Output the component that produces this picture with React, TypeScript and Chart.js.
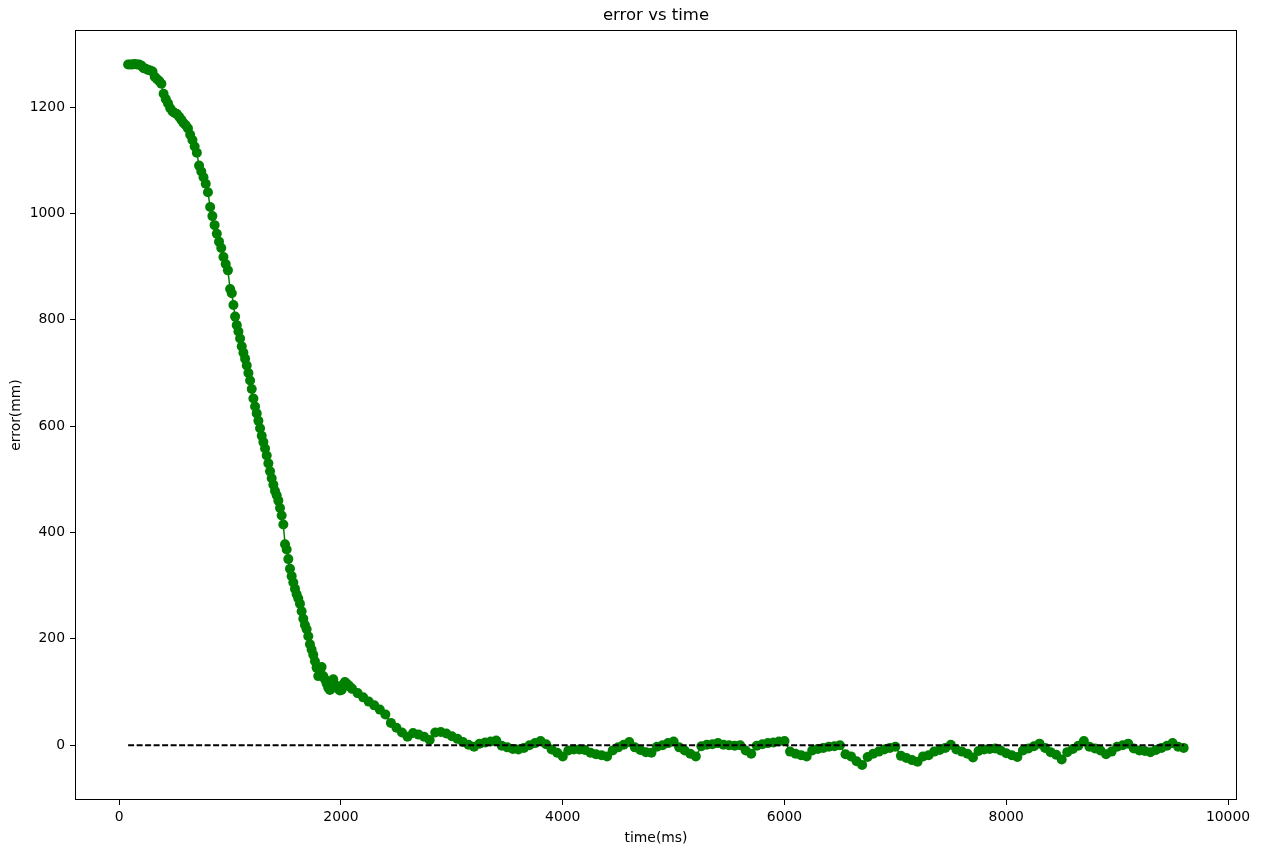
import React, { useEffect, useRef } from "react";
import { Chart, registerables } from "chart.js";

Chart.register(...registerables);

// time samples (ms)
const timeMs: number[] = [
  80, 100, 120, 140, 160, 180, 200, 220, 240, 260,
  280, 300, 320, 340, 360, 380, 400, 420, 440, 460,
  480, 500, 520, 540, 560, 580, 600, 620, 640, 660,
  680, 700, 720, 740, 760, 780, 800, 820, 840, 860,
  880, 900, 920, 940, 960, 980, 1000,
  1015, 1030, 1045, 1060, 1075, 1090, 1105, 1120, 1135, 1150,
  1165, 1180, 1195, 1210, 1225, 1240, 1255, 1270, 1285, 1300,
  1315, 1330, 1345, 1360, 1375, 1390, 1405, 1420, 1435, 1450,
  1465, 1480, 1495, 1510, 1525, 1540, 1555, 1570, 1585, 1600,
  1615, 1630, 1645, 1660, 1675, 1690, 1705, 1720, 1735, 1750,
  1765, 1780, 1795,
  1810, 1825, 1840, 1855, 1870, 1885, 1900, 1915, 1930, 1945,
  1960, 1975, 1990, 2005, 2020, 2035, 2050, 2065, 2080,
  2100, 2150, 2200, 2250, 2300, 2350, 2400, 2450, 2500, 2550,
  2600, 2650, 2700, 2750, 2800, 2850, 2900, 2950, 3000, 3050,
  3100, 3150, 3200, 3250, 3300, 3350, 3400, 3450, 3500, 3550,
  3600, 3650, 3700, 3750, 3800, 3850, 3900, 3950, 4000, 4050,
  4100, 4150, 4200, 4250, 4300, 4350, 4400, 4450, 4500, 4550,
  4600, 4650, 4700, 4750, 4800, 4850, 4900, 4950, 5000, 5050,
  5100, 5150, 5200, 5250, 5300, 5350, 5400, 5450, 5500, 5550,
  5600, 5650, 5700, 5750, 5800, 5850, 5900, 5950, 6000, 6050,
  6100, 6150, 6200, 6250, 6300, 6350, 6400, 6450, 6500, 6550,
  6600, 6650, 6700, 6750, 6800, 6850, 6900, 6950, 7000, 7050,
  7100, 7150, 7200, 7250, 7300, 7350, 7400, 7450, 7500, 7550,
  7600, 7650, 7700, 7750, 7800, 7850, 7900, 7950, 8000, 8050,
  8100, 8150, 8200, 8250, 8300, 8350, 8400, 8450, 8500, 8550,
  8600, 8650, 8700, 8750, 8800, 8850, 8900, 8950, 9000, 9050,
  9100, 9150, 9200, 9250, 9300, 9350, 9400, 9450, 9500, 9550,
  9600,
];

// error values (mm)
const errorMm: number[] = [
  1280, 1280, 1280, 1281, 1280, 1280, 1278, 1273, 1272, 1270,
  1269, 1267, 1257, 1253, 1249, 1244, 1225, 1215, 1207, 1198,
  1192, 1189, 1187, 1182, 1176, 1170, 1166, 1160, 1148, 1138,
  1126, 1114, 1090, 1079, 1068, 1056, 1040, 1012, 995, 978,
  962, 947, 935, 918, 905, 893, 858,
  850, 828, 806, 790, 778, 765, 750, 738, 727, 714,
  700, 686, 670, 652, 637, 624, 610, 596, 582, 570,
  558, 545, 530, 515, 502, 490, 478, 470, 460, 446,
  432, 415, 378, 368, 350, 332, 318, 306, 294, 284,
  276, 266, 252, 238, 226, 218, 205, 190, 180, 170,
  158, 146, 130,
  140, 147, 130, 124, 116, 108, 104, 116, 124, 114,
  110, 106, 103, 104, 114, 119, 116, 113, 110,
  106, 98, 90, 82, 75, 67, 58, 42, 33, 24,
  16, 23, 20, 16, 10, 24, 25, 22, 17, 12,
  6, 1, -3, 3, 5, 7, 9, -1, -4, -7,
  -8, -5, 0, 4, 8, 2, -8, -14, -21, -10,
  -8, -8, -9, -14, -17, -19, -21, -10, -4, 1,
  6, -4, -9, -13, -14, -3, 0, 4, 7, -4,
  -10, -16, -21, -2, 1, 2, 4, 1, 0, -1,
  0, -10, -16, -1, 2, 4, 5, 7, 8, -12,
  -16, -19, -21, -10, -7, -5, -3, -2, 0, -17,
  -21, -30, -37, -22, -16, -12, -8, -5, -3, -20,
  -24, -28, -31, -21, -19, -12, -9, -5, 1, -8,
  -12, -16, -23, -11, -8, -7, -6, -10, -15, -19,
  -22, -10, -6, -2, 3, -5, -13, -18, -27, -13,
  -7, -1, 8, -3, -6, -10, -17, -12, -3, 0,
  3, -6, -10, -11, -13, -9, -5, -1, 4, -3,
  -5,
];

const targetError = 0;
const xTicks = [0, 2000, 4000, 6000, 8000, 10000];
const yTicks = [0, 200, 400, 600, 800, 1000, 1200];

const FONT = "'DejaVu Sans', 'Liberation Sans', sans-serif";

const framePlugin = {
  id: "frame",
  afterDraw(chart: any) {
    const { ctx, chartArea } = chart;
    const { left, top, right, bottom } = chartArea;
    ctx.save();
    ctx.strokeStyle = "#000";
    ctx.lineWidth = 1;
    ctx.strokeRect(left + 0.5, top + 0.5, right - left - 1, bottom - top - 1);
    ctx.restore();
  },
};

export default function App() {
  const canvasRef = useRef<HTMLCanvasElement | null>(null);

  useEffect(() => {
    const canvas = canvasRef.current;
    if (!canvas) return;
    const n = Math.min(timeMs.length, errorMm.length);
    const points = [];
    for (let i = 0; i < n; i++) points.push({ x: timeMs[i], y: errorMm[i] });
    const refLine = [
      { x: timeMs[0], y: targetError },
      { x: timeMs[n - 1], y: targetError },
    ];

    const chart = new Chart(canvas, {
      type: "line",
      data: {
        datasets: [
          {
            label: "target",
            data: refLine,
            borderColor: "#000",
            borderWidth: 2,
            borderDash: [6, 2.5],
            pointRadius: 0,
            fill: false,
          },
          {
            label: "error",
            data: points,
            borderColor: "#008000",
            backgroundColor: "#008000",
            borderWidth: 1.5,
            pointRadius: 5,
            pointHoverRadius: 5,
            pointBorderWidth: 0,
            pointBackgroundColor: "#008000",
            fill: false,
            tension: 0,
          },
        ],
      },
      options: {
        animation: false,
        responsive: false,
        devicePixelRatio: 1,
        events: [],
        layout: { padding: { left: 0, right: 24, top: 0, bottom: 0 } },
        plugins: {
          legend: { display: false },
          tooltip: { enabled: false },
          title: {
            display: true,
            text: "error vs time",
            fullSize: false,
            color: "#000",
            font: { family: FONT, size: 16.5, weight: "normal", lineHeight: 1.2 },
            padding: { top: 6, bottom: 4.2 },
          },
        },
        scales: {
          x: {
            type: "linear",
            min: -399,
            max: 10081,
            afterBuildTicks: (s: any) => {
              s.ticks = xTicks.map((v) => ({ value: v }));
            },
            afterFit: (s: any) => {
              s.height = 53;
            },
            border: { display: false },
            grid: {
              display: true,
              drawOnChartArea: false,
              drawTicks: true,
              tickLength: 5,
              color: "#000",
              lineWidth: 1,
            },
            ticks: {
              autoSkip: false,
              maxRotation: 0,
              padding: 4,
              color: "#000",
              font: { family: FONT, size: 13.9 },
              callback: (v: any) => String(v),
            },
            title: {
              display: true,
              text: "time(ms)",
              color: "#000",
              font: { family: FONT, size: 13.9, lineHeight: 1.2 },
              padding: { top: 0, bottom: 6.5 },
            },
          },
          y: {
            type: "linear",
            min: -103,
            max: 1345,
            afterBuildTicks: (s: any) => {
              s.ticks = yTicks.map((v) => ({ value: v }));
            },
            afterFit: (s: any) => {
              s.width = 75;
            },
            border: { display: false },
            grid: {
              display: true,
              drawOnChartArea: false,
              drawTicks: true,
              tickLength: 5,
              color: "#000",
              lineWidth: 1,
            },
            ticks: {
              autoSkip: false,
              padding: 5,
              color: "#000",
              font: { family: FONT, size: 13.9 },
              callback: (v: any) => String(v),
            },
            title: {
              display: true,
              text: "error(mm)",
              color: "#000",
              font: { family: FONT, size: 13.9, lineHeight: 1.2 },
              padding: { top: 8.5, bottom: 0 },
            },
          },
        },
      },
      plugins: [framePlugin],
    } as any);

    return () => chart.destroy();
  }, []);

  return (
    <div
      style={{
        position: "absolute",
        left: 0,
        top: 0,
        width: 1261,
        height: 853,
        background: "#fff",
      }}
    >
      <canvas
        ref={canvasRef}
        width={1261}
        height={853}
        style={{ display: "block", width: 1261, height: 853 }}
      />
    </div>
  );
}
